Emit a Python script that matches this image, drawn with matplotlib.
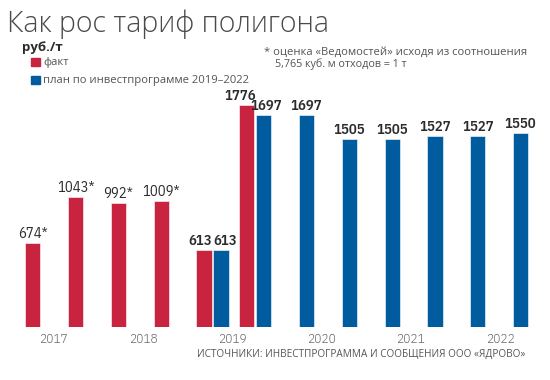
import matplotlib
matplotlib.use("Agg")
import matplotlib.pyplot as plt
import numpy as np
from matplotlib import font_manager as fm

names = {f.name for f in fm.fontManager.ttflist}
def pick(prefs):
    for p in prefs:
        if p in names:
            return p
    return "DejaVu Sans"
NUMF = pick(["IBM Plex Sans Condensed", "Open Sans Condensed", "Liberation Sans Narrow"])
MAIN = pick(["Open Sans", "Noto Sans", "DejaVu Sans"])

# ---- data ----
years = ["2017", "2018", "2019", "2020", "2021", "2022"]
fact_slots = [0, 1, 2, 3, 4, 5]
fact_values = [674, 1043, 992, 1009, 613, 1776]
fact_labels = ["674*", "1043*", "992*", "1009*", "613", "1776"]
plan_slots = [4, 5, 6, 7, 8, 9, 10, 11]
plan_values = [613, 1697, 1697, 1505, 1505, 1527, 1527, 1550]
plan_labels = ["613", "1697", "1697", "1505", "1505", "1527", "1527", "1550"]
year_pos = [0.27, 2.38, 4.47, 6.55, 8.63, 10.72]

RED = "#c8243f"
BLUE = "#005b9f"
GRAY = "#555555"

W, H = 550, 380
fig = plt.figure(figsize=(W / 100, H / 100), dpi=100)
fig.patch.set_facecolor("white")
renderer = fig.canvas.get_renderer()

base_px = 327
top_px = 77
ax = fig.add_axes([0, (H - base_px) / H, 1, (base_px - top_px) / H])
ax.set_xlim(-41.3 / 42.8, (W - 41.3) / 42.8)
ax.set_ylim(0, (base_px - top_px) / 0.125)
for s in ax.spines.values():
    s.set_visible(False)
ax.set_yticks([])

bw = 0.355
off = 0.2
fx = np.array(fact_slots) - off
px = np.array(plan_slots) + off
ax.bar(fx, fact_values, width=bw, color=RED, edgecolor="white", linewidth=0.4)
ax.bar(px, plan_values, width=bw, color=BLUE, edgecolor="white", linewidth=0.4)

LBL = "#2b2b2b"
for i, (x, v, lab) in enumerate(zip(fx, fact_values, fact_labels)):
    star = lab.endswith("*")
    dx = {4: -3, 5: -5}.get(i, 0)
    ax.annotate(lab, (x, v), xytext=(dx, 1.5), textcoords="offset points",
                ha="center", va="bottom", fontsize=10.5, family=NUMF,
                weight=400 if star else 600, color=LBL)
for i, (x, v, lab) in enumerate(zip(px, plan_values, plan_labels)):
    dx = {0: 3, 1: 2}.get(i, 0)
    ax.annotate(lab, (x, v), xytext=(dx, 1.5), textcoords="offset points",
                ha="center", va="bottom", fontsize=10.5, family=NUMF,
                weight=600, color=LBL)

ax.set_xticks(year_pos)
ax.set_xticklabels(years, family=NUMF, fontsize=9.5, color="#6a6a6a", weight=300)
ax.tick_params(axis="x", length=0, pad=4)

# ---- texts ----
def ftext(x, y, s, target_w=None, **kw):
    t = fig.text(x / W, 1 - y / H, s, **kw)
    if target_w:
        for _ in range(3):
            w = t.get_window_extent(renderer).width
            t.set_fontsize(t.get_fontsize() * target_w / w)
    return t

ftext(7, 24, "Как рос тариф полигона", target_w=323, fontsize=20, family=MAIN,
      weight="light", color="#4a4a4a", va="center", ha="left")
ftext(22, 47, "руб./т", fontsize=9.5, family=MAIN, weight="bold", color="#2b2b2b",
      va="center")

ax_leg = fig.add_axes([0, 0, 1, 1], facecolor="none")
ax_leg.set_xlim(0, W)
ax_leg.set_ylim(H, 0)
ax_leg.axis("off")
ax_leg.add_patch(plt.Rectangle((31, 58), 9, 8, color=RED))
ax_leg.add_patch(plt.Rectangle((31, 76), 9, 8, color=BLUE))
leg = ftext(43, 80, "план по инвестпрограмме 2019–2022", target_w=207, fontsize=8.5,
            family=MAIN, color=GRAY, va="center")
fs = leg.get_fontsize()
ftext(43, 62, "факт", fontsize=fs, family=MAIN, color=GRAY, va="center")

note = ftext(264, 52, "* оценка «Ведомостей» исходя из соотношения", target_w=264,
             fontsize=8.5, family=MAIN, color=GRAY, va="center")
ftext(275, 64, "5,765 куб. м отходов = 1 т", fontsize=note.get_fontsize() * 0.95,
      family=MAIN, color=GRAY, va="center")

ftext(197, 354, "ИСТОЧНИКИ: ИНВЕСТПРОГРАММА И СООБЩЕНИЯ ООО «ЯДРОВО»", target_w=331,
      fontsize=8.0, family=[MAIN, "DejaVu Sans"], color=GRAY, va="center", ha="left")

fig.savefig("out.png", dpi=100, facecolor="white")
